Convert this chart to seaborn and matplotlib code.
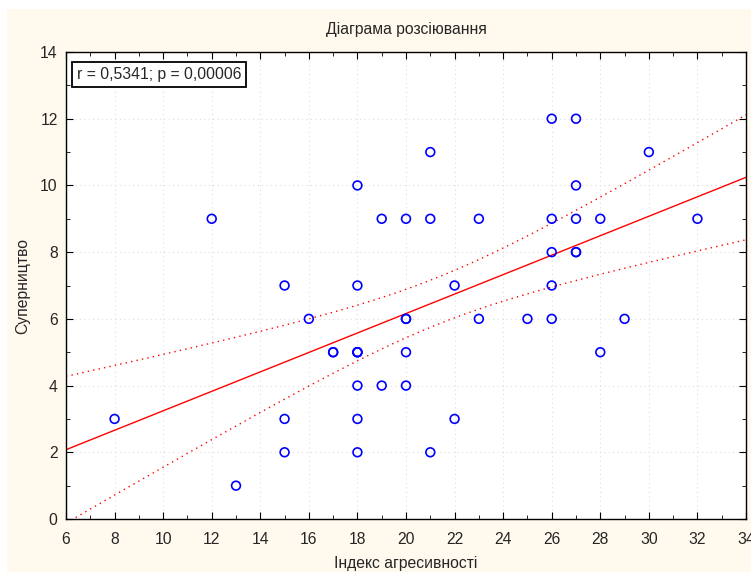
import numpy as np
import pandas as pd
import matplotlib.pyplot as plt
import seaborn as sns
from matplotlib.ticker import MultipleLocator
from matplotlib.patches import Rectangle

# Дані
agresyvnist = [8, 12, 13, 15, 15, 15, 16, 17, 17,
               18, 18, 18, 18, 18, 18, 18, 18, 19, 19,
               20, 20, 20, 20, 20, 21, 21, 21, 22, 22,
               23, 23, 25, 26, 26, 26, 26, 26,
               27, 27, 27, 27, 27, 28, 28, 29, 30, 32]
supernytstvo = [3, 9, 1, 7, 3, 2, 6, 5, 5,
                10, 7, 5, 5, 5, 4, 3, 2, 9, 4,
                9, 6, 6, 5, 4, 11, 9, 2, 7, 3,
                9, 6, 6, 12, 9, 8, 7, 6,
                12, 10, 9, 8, 8, 9, 5, 6, 11, 9]

title = "Діаграма розсіювання"
xlabel = "Індекс агресивності"
ylabel = "Суперництво"
stat_text = "r = 0,5341; p = 0,00006"

df = pd.DataFrame({"x": agresyvnist, "y": supernytstvo})

# Лінійна регресія + 95% довірчий інтервал
n = len(df)
b, a = np.polyfit(df.x, df.y, 1)
resid = df.y - (a + b * df.x)
s = np.sqrt((resid ** 2).sum() / (n - 2))
xm = df.x.mean()
sxx = ((df.x - xm) ** 2).sum()
xs = np.linspace(6, 34, 200)
ys = a + b * xs
t = 2.014
se = s * np.sqrt(1 / n + (xs - xm) ** 2 / sxx)
fit = pd.DataFrame({"x": xs, "y": ys, "lo": ys - t * se, "hi": ys + t * se})

sns.set_style("white")
plt.rcParams['font.family'] = ['Liberation Sans', 'DejaVu Sans']
fs = 11.3

fig = plt.figure(figsize=(7.51, 5.72), dpi=100, facecolor='white')
# кремовий фон з білою смугою зверху та зліва
fig.patches.append(Rectangle((7 / 751, 0), 1, 1 - 9 / 572, transform=fig.transFigure,
                             fc='#fff9ee', ec='none', zorder=-10))
ax = fig.add_axes([66 / 751, 53 / 572, 680 / 751, 467 / 572])
ax.set_facecolor('white')

sns.lineplot(data=fit, x="x", y="y", color='red', lw=1, ax=ax)
sns.lineplot(data=fit, x="x", y="lo", color='red', lw=1, ls=(0, (1, 3)), ax=ax)
sns.lineplot(data=fit, x="x", y="hi", color='red', lw=1, ls=(0, (1, 3)), ax=ax)
sns.scatterplot(data=df, x="x", y="y", s=40, facecolors='none',
                edgecolor='blue', linewidth=1.2, ax=ax, zorder=5)

ax.set_xlim(6, 34)
ax.set_ylim(0, 14)
ax.xaxis.set_major_locator(MultipleLocator(2))
ax.xaxis.set_minor_locator(MultipleLocator(1))
ax.yaxis.set_major_locator(MultipleLocator(2))
ax.yaxis.set_minor_locator(MultipleLocator(1))
ax.tick_params(which='both', direction='in', top=True, right=True,
               bottom=True, left=True, labelsize=fs, color='black')
ax.tick_params(which='major', length=5)
ax.tick_params(which='minor', length=3)
ax.tick_params(axis='x', pad=9)
ax.tick_params(axis='y', pad=6)
ax.grid(True, which='major', ls=(0, (1, 3)), color='#dddddd', lw=0.8)
for sp in ax.spines.values():
    sp.set_color('black')
    sp.set_linewidth(1)

ax.set_title(title, fontsize=fs, pad=13)
ax.set_xlabel(xlabel, fontsize=fs, labelpad=7)
ax.set_ylabel(ylabel, fontsize=fs, labelpad=7)

ax.text(0.0157, 0.968, stat_text, transform=ax.transAxes, fontsize=fs,
        va='top', ha='left', zorder=6,
        bbox=dict(boxstyle='square,pad=0.3', fc='white', ec='black', lw=1.3))

plt.savefig("out.png", dpi=100)
